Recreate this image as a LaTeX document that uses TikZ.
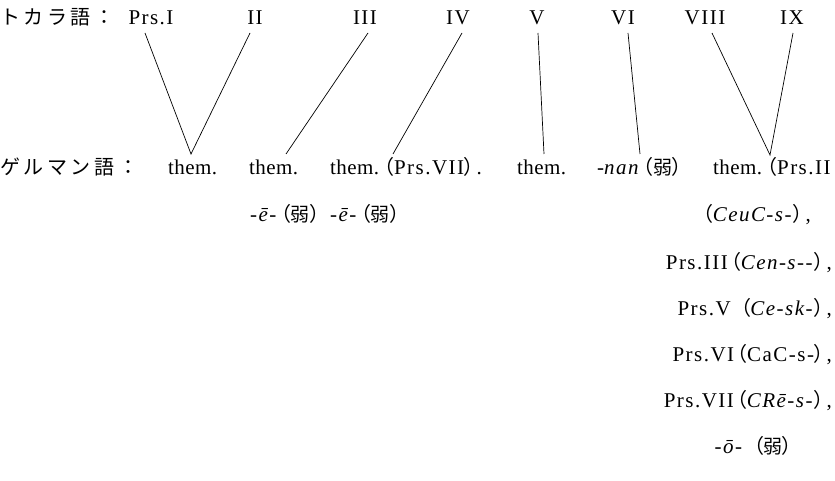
\documentclass[tikz,border=0pt]{standalone}
\usepackage{fontspec}
\setmainfont[LetterSpace=7]{Liberation Serif}
\newfontfamily\jpf[RawFeature=+palt]{Noto Sans CJK JP}
\newfontfamily\jplab[LetterSpace=18]{Noto Sans CJK JP}
\newfontfamily\themf[LetterSpace=2]{Liberation Serif}
\newcommand{\jlp}{\kern3pt{\jpf\fontsize{20}{22}\selectfont （}}
\newcommand{\jrp}{{\jpf\fontsize{20}{22}\selectfont ）}\kern2.5pt}
\newcommand{\jweak}{{\jpf\fontsize{19}{22}\selectfont 弱}}
\begin{document}
\begin{tikzpicture}[x=1pt,y=-1pt,
  lab/.style={inner sep=0pt,font=\fontsize{21}{24}\selectfont},
  jlab/.style={inner sep=0pt,font=\fontsize{20}{24}\selectfont\jplab},
  conn/.style={line width=0.7pt,black}]
\useasboundingbox (0,0) rectangle (835,481);
% row 1: Tocharian
\node[jlab,anchor=base west] (toch) at (0,25) {トカラ語：};
\node[lab,anchor=base] (t1) at (151,25) {Prs.I};
\node[lab,anchor=base] (t2) at (255,25) {II};
\node[lab,anchor=base] (t3) at (365,25) {III};
\node[lab,anchor=base] (t4) at (458,25) {IV};
\node[lab,anchor=base] (t5) at (537,25) {V};
\node[lab,anchor=base] (t6) at (623,25) {VI};
\node[lab,anchor=base] (t8) at (705,25) {VIII};
\node[lab,anchor=base] (t9) at (792,25) {IX};
% row 2: Germanic
\node[jlab,anchor=base west] (germ) at (0,175) {ゲルマン語：};
\node[lab,anchor=base west] (g1) at (168,175) {\themf them.};
\node[lab,anchor=base west] (g2) at (249,175) {\themf them.};
\node[lab,anchor=base west] (g3) at (330,175) {{\themf them.}\kern2pt\jlp Prs.VII\jrp .};
\node[lab,anchor=base west] (g4) at (517,175) {\themf them.};
\node[lab,anchor=base west] (g5) at (597,175) {-\textit{nan}\jlp\jweak\jrp};
\node[lab,anchor=base west] (g6) at (713,175) {{\themf them.}\kern2pt\jlp Prs.II};
% row 3
\node[lab,anchor=base west] (w2) at (250,222) {\textit{-ē-}\jlp\jweak\jrp};
\node[lab,anchor=base west] (w3) at (330,222) {\textit{-ē-}\jlp\jweak\jrp};
\node[lab,anchor=base east] (c1) at (811,222) {\jlp\textit{CeuC-s-}\jrp,};
% rows 4-8
\node[lab,anchor=base east] (c2) at (832,269) {Prs.III\jlp\textit{Cen-s{-}{-}}\jrp,};
\node[lab,anchor=base east] (c3) at (832,315) {Prs.V\ \jlp\textit{Ce-sk-}\jrp,};
\node[lab,anchor=base east] (c4) at (832,361) {Prs.VI\jlp CaC-s-\jrp,};
\node[lab,anchor=base east] (c5) at (832,407) {Prs.VII\jlp\textit{CRē-s-}\jrp,};
\node[lab,anchor=base east] (c6) at (795,453) {\textit{-ō-}\ \jlp\jweak\jrp};
% connector end points
\coordinate (a1) at (145,33);
\coordinate (a2) at (250,33);
\coordinate (a3) at (368,33);
\coordinate (a4) at (462,33);
\coordinate (a5) at (538,33);
\coordinate (a6) at (628,33);
\coordinate (a8) at (712,33);
\coordinate (a9) at (793,33);
\coordinate (b1) at (191,154);
\coordinate (b2) at (286,154);
\coordinate (b3) at (393,154);
\coordinate (b4) at (544,154);
\coordinate (b5) at (640,154);
\coordinate (b6) at (770,155);
\draw[conn] (a1) -- (b1) -- (a2);
\draw[conn] (a3) -- (b2);
\draw[conn] (a4) -- (b3);
\draw[conn] (a5) -- (b4);
\draw[conn] (a6) -- (b5);
\draw[conn] (a8) -- (b6) -- (a9);
\end{tikzpicture}
\end{document}
